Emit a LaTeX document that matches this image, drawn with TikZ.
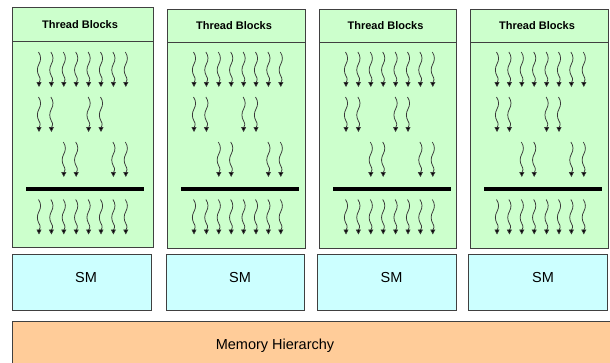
\documentclass[tikz,border=0pt]{standalone}
\usepackage{fontspec}
\setmainfont{Liberation Sans}
\usetikzlibrary{arrows.meta}
\definecolor{blockgreen}{HTML}{CCFFCC}
\definecolor{smcyan}{HTML}{CCFFFF}
\definecolor{memorange}{HTML}{FFCC99}
\definecolor{edgegray}{HTML}{404040}
\definecolor{wavegray}{HTML}{383838}
\begin{document}
\begin{tikzpicture}[x=1pt,y=-1pt,
  blockbox/.style={draw=edgegray, fill=blockgreen, line width=1pt},
  smbox/.style={draw=edgegray, fill=smcyan, line width=1pt},
  membox/.style={draw=edgegray, fill=memorange, line width=1pt},
  headline/.style={draw=edgegray, line width=1pt},
  wline/.style={draw=wavegray, line width=0.75pt, -{Triangle[length=5pt,width=5pt,fill=black]}},
  barline/.style={line width=4pt, black},
  titletext/.style={font=\fontsize{11}{13}\selectfont\bfseries, inner sep=0pt},
  bigtext/.style={font=\fontsize{14.5}{17}\selectfont, inner sep=0pt},
  thr/.pic={\draw[wline] (-0.5,0) .. controls (2.2,4) and (2.2,8) .. (0,12)
      .. controls (-2.2,16) and (-2.2,20) .. (0,24)
      .. controls (2,27) and (1,29) .. (0,31) -- (0,35);}
]
\useasboundingbox (0,0) rectangle (610,362);
\clip (0,0) rectangle (610,362);

% memory
\draw[membox] (12,321) rectangle (640,390);
\node[bigtext] (mem) at (275,346) {Memory Hierarchy};

% thread blocks
\draw[blockbox] (12,7.5) rectangle (153,247);
\draw[headline] (12,41) -- (153,41);
\foreach \L/\R in {167/305, 319/456, 470/608}{
  \draw[blockbox] (\L,9.5) rectangle (\R,248);
  \draw[headline] (\L,42) -- (\R,42);
}
\node[titletext] (t1) at (80,24.5) {Thread Blocks};
\node[titletext] (t2) at (234,25.5) {Thread Blocks};
\node[titletext] (t3) at (385.5,25.5) {Thread Blocks};
\node[titletext] (t4) at (537,25.5) {Thread Blocks};

% threads
\foreach \L in {12,167,319,470}{
  \foreach \i in {0,...,7}{
    \pic at ({\L+27+12.4*\i},52) {thr};
    \pic at ({\L+27+12.4*\i},199.5) {thr};
  }
  \foreach \i in {0,1,4,5}{
    \pic at ({\L+27+12.4*\i},97) {thr};
  }
  \foreach \i in {2,3,6,7}{
    \pic at ({\L+27+12.4*\i},142) {thr};
  }
  \draw[barline] ({\L+14},189) -- ({\L+132},189);
}

% SM boxes
\draw[smbox] (12,254.5) rectangle (151,310.5);
\draw[smbox] (166,254.5) rectangle (304,310.5);
\draw[smbox] (317,254.5) rectangle (456,310.5);
\draw[smbox] (468,254.5) rectangle (607,310.5);
\node[bigtext] (s1) at (86,278) {SM};
\node[bigtext] (s2) at (240,278) {SM};
\node[bigtext] (s3) at (391.5,278) {SM};
\node[bigtext] (s4) at (543,278) {SM};
\end{tikzpicture}
\end{document}
